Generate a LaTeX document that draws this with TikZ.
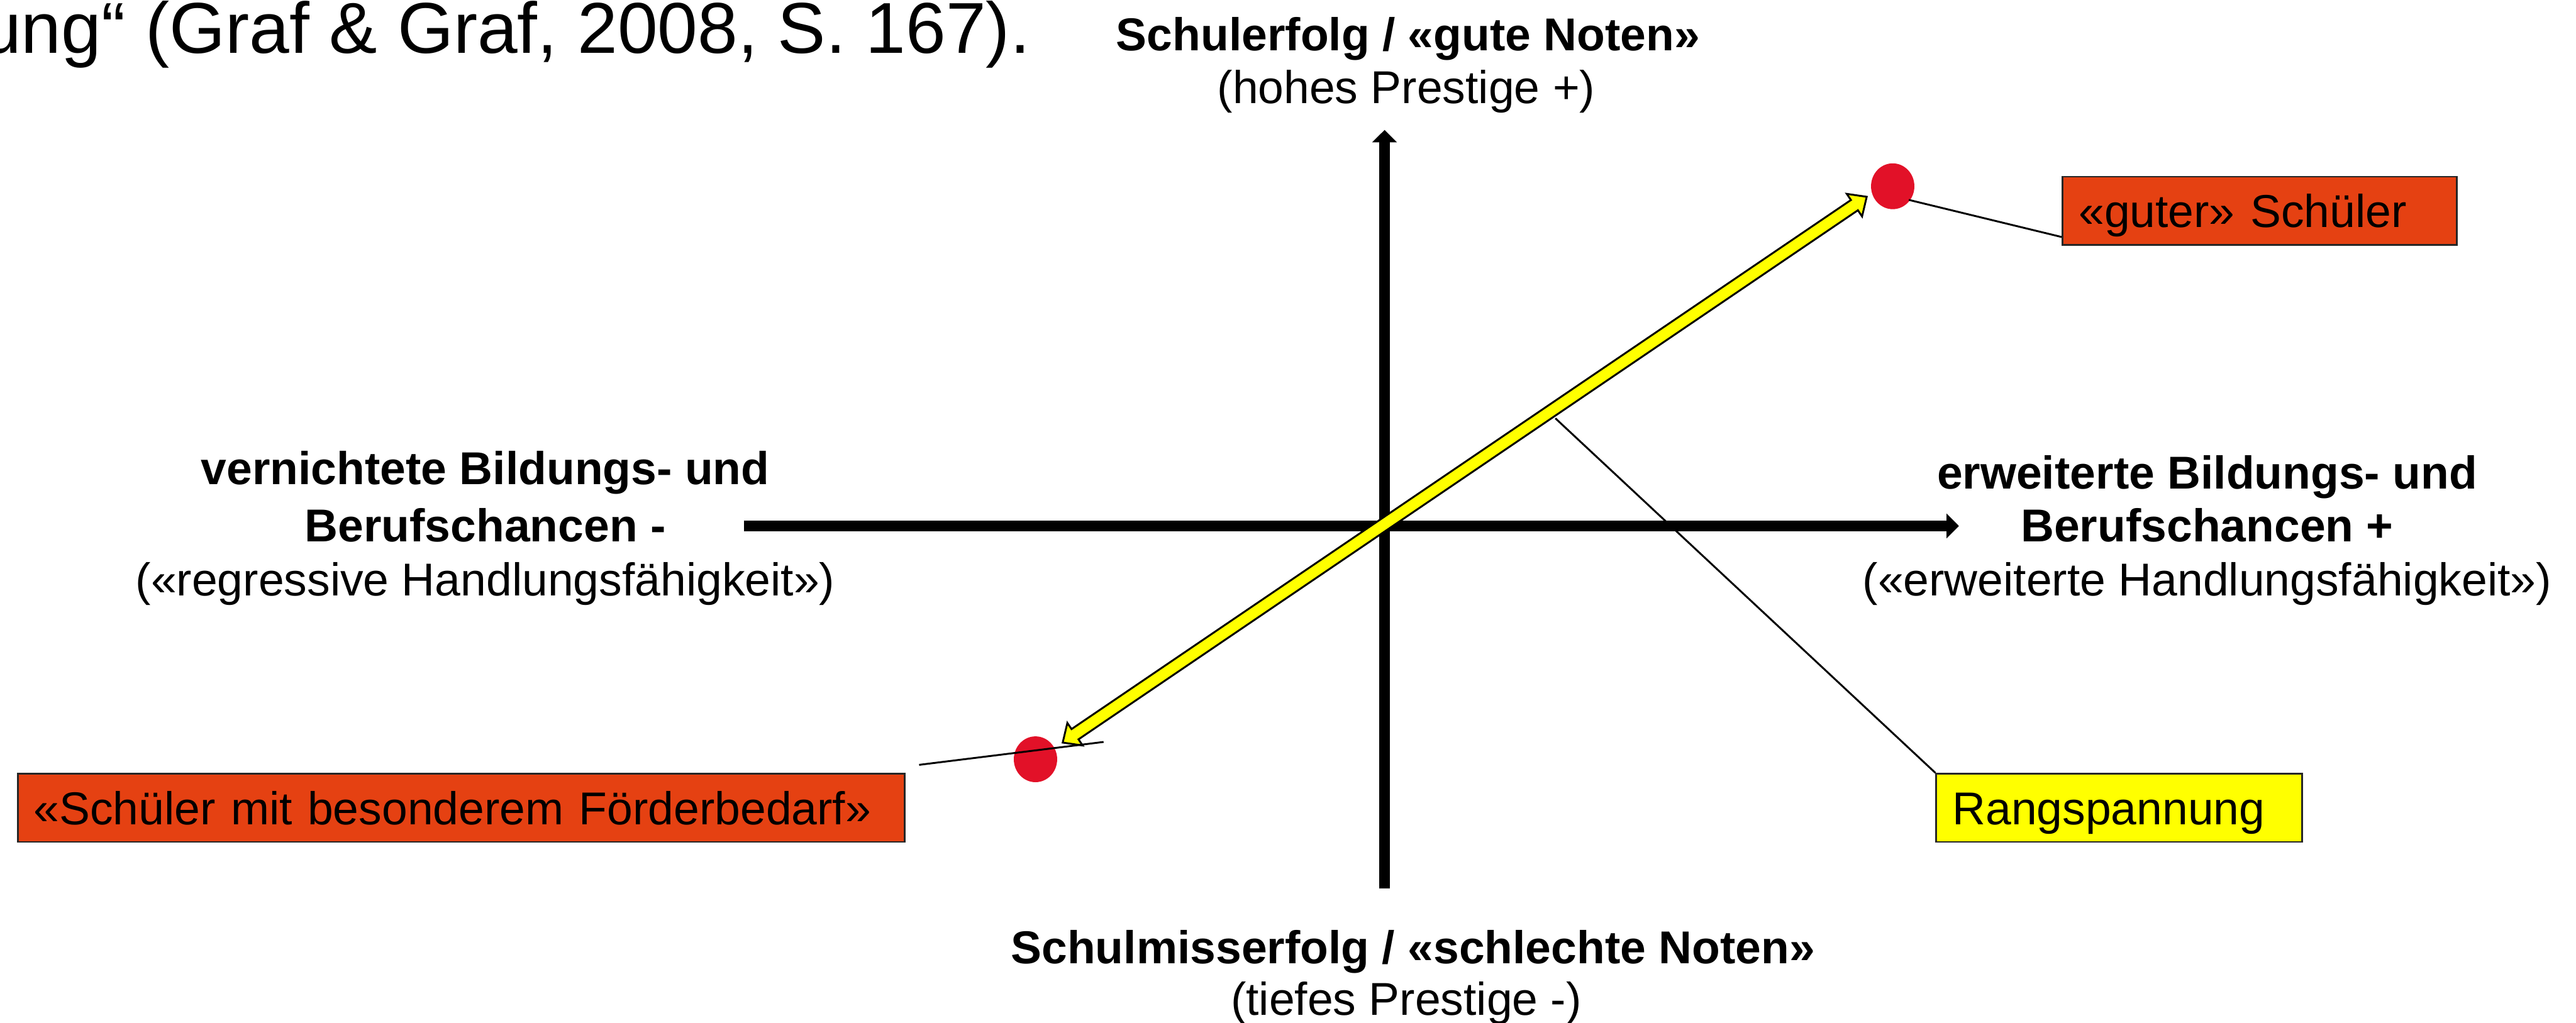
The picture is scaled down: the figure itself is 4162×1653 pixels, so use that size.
\documentclass[tikz,border=0pt]{standalone}
\usepackage{fontspec}
\setmainfont{Liberation Sans}
\usetikzlibrary{arrows.meta,calc,shapes.geometric}
\definecolor{boxorange}{RGB}{229,65,18}
\definecolor{dotred}{RGB}{226,17,40}
\definecolor{arrowyellow}{RGB}{255,255,0}
\begin{document}
\begin{tikzpicture}[x=0.01cm,y=-0.01cm,
  lbl/.style={font=\fontsize{21.17pt}{25pt}\selectfont, inner sep=0pt, anchor=base},
  lblb/.style={lbl, font=\fontsize{21.17pt}{25pt}\selectfont\bfseries},
  axis/.style={line width=0.18cm, -{Triangle[width=0.39cm,length=0.2cm]}},
  callout/.style={line width=0.03cm, black},
  tag/.style={draw=black!85, line width=0.03cm, anchor=north west, inner xsep=0.26cm, inner ysep=0.1cm,
    text height=0.72cm, text depth=0.18cm, align=left, font=\fontsize{21.17pt}{25pt}\selectfont},
  dot/.style={ellipse, fill=dotred, minimum width=0.70cm, minimum height=0.74cm, inner sep=0pt},
]
\useasboundingbox[fill=white] (0,0) rectangle (4162,1653);

% title fragment
\node[lbl, anchor=base east, font=\fontsize{33.09pt}{40pt}\selectfont] (title) at (1665,86) {ung“ (Graf \& Graf, 2008, S. 167).};

% axis labels
\node[lblb] (top1) at (2275,82) {Schulerfolg / «gute Noten»};
\node[lbl] (top2) at (2272,167) {(hohes Prestige +)};
\node[lblb] (left1) at (784,783) {vernichtete Bildungs- und};
\node[lblb] (left2) at (784,875) {Berufschancen -};
\node[lbl] (left3) at (784,963) {(«regressive Handlungsfähigkeit»)};
\node[lblb] (right1) at (3566,790) {erweiterte Bildungs- und};
\node[lblb] (right2) at (3566,875) {Berufschancen +};
\node[lbl] (right3) at (3566,963) {(«erweiterte Handlungsfähigkeit»)};
\node[lblb] (bot1) at (2283,1557) {Schulmisserfolg / «schlechte Noten»};
\node[lbl] (bot2) at (2272,1640) {(tiefes Prestige -)};

% axes
\coordinate (yb) at (2237,1436);
\coordinate (yt) at (2237,210);
\coordinate (xl) at (1202,850);
\coordinate (xr) at (3165,850);
\draw[axis] (yb) -- (yt);
\draw[axis] (xl) -- (xr);

% yellow double arrow
\coordinate (ya) at (1717,1200);
\coordinate (ye) at (3016,318);
\path ($(ya)!0.24cm!(ye)$) coordinate (ha)
      ($(ye)!0.24cm!(ya)$) coordinate (hb);
\draw[fill=arrowyellow, line width=0.03cm, line join=miter]
  (ya) -- ($(ha)!0.22cm!90:(ye)$) -- ($(ha)!0.10cm!90:(ye)$)
  -- ($(hb)!0.10cm!-90:(ya)$) -- ($(hb)!0.22cm!-90:(ya)$) -- (ye)
  -- ($(hb)!0.22cm!90:(ya)$) -- ($(hb)!0.10cm!90:(ya)$)
  -- ($(ha)!0.10cm!-90:(ye)$) -- ($(ha)!0.22cm!-90:(ye)$) -- cycle;

% dots
\node[dot] (dgood) at (3058,301) {};
\node[dot] (dweak) at (1673,1227) {};

% boxes
\node[tag, fill=boxorange, text width=5.85cm] (good) at (3331,284) {«guter» Schüler};
\node[tag, fill=boxorange, text width=13.80cm] (weak) at (27,1249) {«Schüler mit besonderem Förderbedarf»};
\node[tag, fill=arrowyellow, text width=5.39cm] (rang) at (3127,1249) {Rangspannung};

% callout lines
\coordinate (g1) at (3084,323);
\coordinate (g2) at (3331,383);
\draw[callout] (g1) -- (g2);
\coordinate (w1) at (1485,1236);
\coordinate (w2) at (1783,1199);
\draw[callout] (w1) -- (w2);
\coordinate (r1) at (2513,676);
\draw[callout] (r1) -- (rang.north west);
\end{tikzpicture}
\end{document}
